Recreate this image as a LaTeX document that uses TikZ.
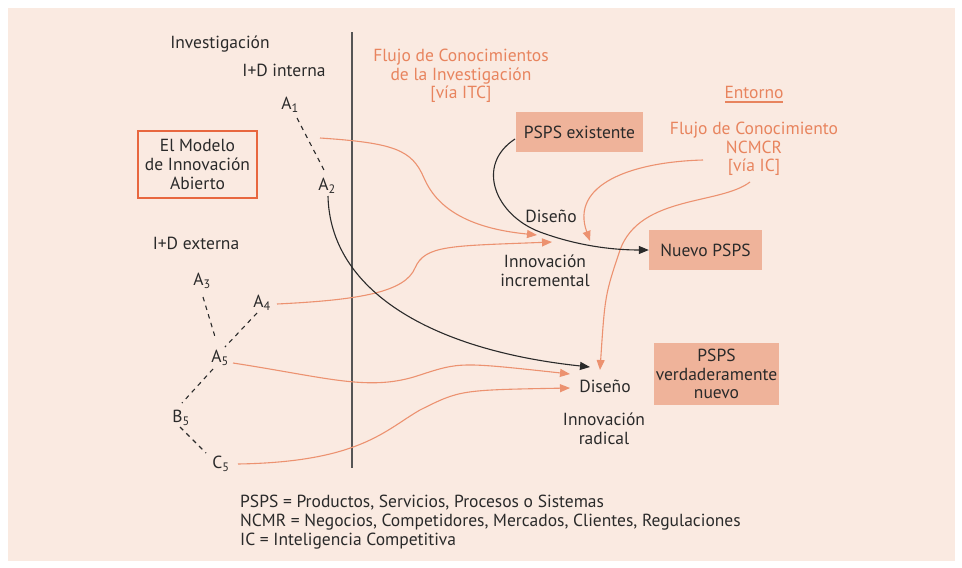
\documentclass[tikz,border=0pt]{standalone}
\usepackage{fontspec}
\setmainfont{PT Sans}
\usetikzlibrary{arrows.meta}
\definecolor{bgc}{HTML}{FAEAE1}
\definecolor{org}{HTML}{E8845E}
\definecolor{orgline}{HTML}{EC9270}
\definecolor{boxf}{HTML}{EFB39A}
\definecolor{frame}{HTML}{E8673F}
\definecolor{ink}{HTML}{2A2A2A}
\tikzset{
  txt/.style={font=\fontsize{17.5}{18.7}\selectfont, text=ink, inner sep=0pt, align=center},
  otxt/.style={txt, text=org},
  pbox/.style={txt, fill=boxf, inner sep=0pt},
  olink/.style={draw=orgline, line width=1.1pt, -{Triangle[length=10pt,width=8pt]}},
  blink/.style={draw=ink, line width=1.1pt, -{Triangle[length=10pt,width=8pt]}},
  dashline/.style={draw=ink, line width=1.1pt, dash pattern=on 4.5pt off 4.5pt},
}
\begin{document}
\begin{tikzpicture}[x=1pt,y=-1pt]
\useasboundingbox (0,0) rectangle (962,568);
\fill[white] (0,0) rectangle (962,568);
\fill[bgc] (8,8) rectangle (955,561);
% vertical divider
\coordinate (vtop) at (352,32);
\coordinate (vbot) at (352,468);
\draw[ink!80, line width=1.5pt] (vtop) -- (vbot);
% left texts
\node[txt] (inv) at (220,44) {Investigación};
\node[txt] (idi) at (284,70) {I+D interna};
\node[txt] (a1) at (290,105) {A\textsubscript{1}};
\node[txt] (a2) at (327,186) {A\textsubscript{2}};
\node[txt, draw=frame, line width=1.2pt, minimum width=119pt, minimum height=67pt] (modelo) at (197.5,164.5) {El Modelo\\de Innovación\\Abierto};
\node[txt] (ide) at (196,243) {I+D externa};
\node[txt] (a3) at (202,281) {A\textsubscript{3}};
\node[txt] (a4) at (262,303) {A\textsubscript{4}};
\node[txt] (a5) at (220,358) {A\textsubscript{5}};
\node[txt] (b5) at (181,418) {B\textsubscript{5}};
\node[txt] (c5) at (221,464) {C\textsubscript{5}};
% dashed links
\draw[dashline] (297,118) -- (325,172);
\draw[dashline] (203,297) -- (216,340);
\draw[dashline] (257,313) -- (225,347);
\draw[dashline] (213,369) -- (182,403);
\draw[dashline] (180,427) -- (206,453);
% right texts
\node[otxt] (flujoi) at (461,76) {Flujo de Conocimientos\\de la Investigación\\{[}vía ITC{]}};
\node[pbox, minimum width=127pt, minimum height=40pt] (pexist) at (579.5,132) {PSPS existente};
\node[otxt] (entorno) at (754,92) {Entorno};
\draw[org, line width=1.3pt] (725,102) -- (783,102);
\node[otxt] (flujon) at (754,149) {Flujo de Conocimiento\\NCMCR\\{[}vía IC{]}};
\node[txt] (dis1) at (551,216) {Diseño};
\node[txt] (incr) at (545,271) {Innovación\\incremental};
\node[pbox, minimum width=113pt, minimum height=40pt] (nuevo) at (705.5,250) {Nuevo PSPS};
\node[pbox, minimum width=125pt, minimum height=62pt] (verd) at (716.5,374) {PSPS\\verdaderamente\\nuevo};
\node[txt] (dis2) at (605,386) {Diseño};
\node[txt] (rad) at (604,429) {Innovación\\radical};
\node[txt, align=left, anchor=north west] (leg) at (240,495) {PSPS = Productos, Servicios, Procesos o Sistemas\\NCMR = Negocios, Competidores, Mercados, Clientes, Regulaciones\\IC = Inteligencia Competitiva};
% connectors
\coordinate (s1) at (320,138);
\coordinate (s2) at (277,304);
\coordinate (s3) at (703,160);
\coordinate (s4) at (750,182);
\coordinate (s5) at (515,139);
\coordinate (s6) at (328,196);
\coordinate (s7) at (233,363);
\coordinate (s8) at (238,464);
\coordinate (t1) at (537,235);
\coordinate (t2) at (552,242);
\coordinate (t3) at (590,241);
\coordinate (t4) at (600,370);
\coordinate (t5) at (590,367);
\coordinate (t6) at (570,374);
\coordinate (t7) at (570,388);
\draw[olink] (s1) .. controls (395,143) and (412,150) .. (424,178) .. controls (436,206) and (465,228) .. (t1);
\draw[olink] (s2) .. controls (360,300) and (405,292) .. (415,268) .. controls (425,245) and (450,246) .. (t2);
\draw[olink] (s3) .. controls (630,162) and (570,185) .. (t3);
\draw[olink] (s4) .. controls (720,205) and (640,195) .. (620,250) .. controls (605,295) .. (t4);
\draw[blink] (s5) .. controls (475,165) and (495,215) .. (540,232) .. controls (575,245) and (610,250) .. (nuevo.west);
\draw[blink] (s6) .. controls (330,290) and (430,350) .. (t5);
\draw[olink] (s7) .. controls (330,378) and (370,392) .. (420,375) .. controls (460,362) .. (t6);
\draw[olink] (s8) .. controls (360,462) and (385,430) .. (420,410) .. controls (460,390) .. (t7);
\end{tikzpicture}
\end{document}
